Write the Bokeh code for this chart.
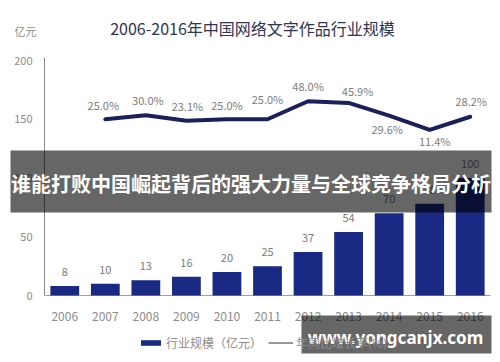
from bokeh.plotting import figure
from bokeh.models import (Range1d, ColumnDataSource, Label, LabelSet,
                          BoxAnnotation, Legend, LegendItem)
from bokeh.embed import file_html
from bokeh.resources import INLINE
from bokeh.core.properties import value

# ---------------- data ----------------
years = [2006, 2007, 2008, 2009, 2010, 2011, 2012, 2013, 2014, 2015, 2016]
scale = [8, 10, 13, 16, 20, 25, 37, 54, 70, 78, 100]          # 亿元
growth_years = [2007, 2008, 2009, 2010, 2011, 2012, 2013, 2014, 2015, 2016]
growth = [25.0, 30.0, 23.1, 25.0, 25.0, 48.0, 45.9, 29.6, 11.4, 28.2]  # %
y_ticks = [0, 50, 100, 150, 200]
title_text = "2006-2016年中国网络文字作品行业规模"
unit_text = "亿元"
legend_bar = "行业规模（亿元）"
legend_line = "年同比增长率(%)"
banner_text = "谁能打败中国崛起背后的强大力量与全球竞争格局分析"
watermark_text = "www.yongcanjx.com"

# ---------------- styles / geometry ----------------
FONT = "Noto Sans CJK SC"
BAR = "#1a2a84"
LINE = "#1b1f5c"
TICK = "#8c8c8c"
LBL = "#7c7c7c"
W, H = 500, 362
PLOT_L, PLOT_R, PLOT_T, PLOT_B = 44, 490, 60, 295      # plotting area in px
X0, X1 = years[0] - 0.5, years[-1] + 0.5
Y0, Y1 = y_ticks[0], y_ticks[-1]
P0, P1 = -200, 100                                      # secondary (growth %) axis
pct_dx = [-2, 2, 1, 0, 0, 0, 9, -2, 5, 1]
pct_dy = [14, 15, 15, 14, 20, 15, 12, -13, -11, 16]

kx = (X1 - X0) / (PLOT_R - PLOT_L)
ky = (Y1 - Y0) / (PLOT_B - PLOT_T)
kp = (P1 - P0) / (PLOT_B - PLOT_T)


def dx(px):
    return X0 + (px - PLOT_L) * kx


def dy(py):
    return Y0 + (PLOT_B - py) * ky


p = figure(width=W, height=H, output_backend="svg", toolbar_location=None,
           x_range=Range1d(dx(0), dx(W)), y_range=Range1d(dy(H), dy(0)),
           min_border=0)
p.extra_y_ranges = {"pct": Range1d(P0 - (H - PLOT_B) * kp, P1 + PLOT_T * kp)}
p.outline_line_color = None
p.grid.visible = False
p.xaxis.visible = False
p.yaxis.visible = False
p.background_fill_color = "white"
p.border_fill_color = "white"

# ---- axes (drawn from the tick lists through the scales) ----
p.segment(x0=[X0], y0=[Y0], x1=[X0], y1=[dy(PLOT_T - 3)], line_color="#8a8a8a",
          line_width=1)
p.segment(x0=[X0], y0=[Y0], x1=[X1], y1=[Y0], line_color="#a0a0a0", line_width=1)
p.text(x=[dx(PLOT_L - 12)] * len(y_ticks), y=y_ticks, text=[str(t) for t in y_ticks],
       text_align="right", text_baseline="middle", text_font=value(FONT),
       text_font_size="11px", text_color=TICK)
p.text(x=years, y=[Y0] * len(years), y_offset=21, text=[str(y) for y in years],
       text_align="center", text_baseline="middle", text_font=value(FONT),
       text_font_size="12px", text_color=TICK)

# ---- bars ----
bar_src = ColumnDataSource(dict(year=years, scale=scale,
                                lab=[str(v) for v in scale]))
bars = p.vbar(x="year", top="scale", width=0.71, source=bar_src,
              fill_color=BAR, line_color=None)
p.add_layout(LabelSet(x="year", y="scale", text="lab", source=bar_src,
                      y_offset=14, text_align="center", text_baseline="middle",
                      text_font=value(FONT), text_font_size="11px", text_color=LBL))

# ---- growth line ----
g_src = ColumnDataSource(dict(year=growth_years, g=growth,
                              lab=["%.1f%%" % v for v in growth],
                              dx=pct_dx, dy=pct_dy))
p.line(x="year", y="g", source=g_src, y_range_name="pct", line_color=LINE,
       line_width=4, line_join="round", line_cap="round")
p.add_layout(LabelSet(x="year", y="g", text="lab", source=g_src, y_range_name="pct",
                      x_offset="dx", y_offset="dy", text_align="center",
                      text_baseline="middle", text_font=value(FONT),
                      text_font_size="11px", text_color=LBL))

# thin line used only as the legend swatch of the growth series
legend_line_r = p.line(x="year", y="g", source=g_src, y_range_name="pct",
                       line_color="#333333", line_width=1, visible=False)

# ---- title & unit ----
p.add_layout(Label(x=dx(252), y=dy(27), text=title_text, text_align="center",
                   text_baseline="middle", text_font=FONT, text_font_size="16px",
                   text_color="#2f3555"))
p.add_layout(Label(x=dx(25), y=dy(30), text=unit_text, text_align="center",
                   text_baseline="middle", text_font=FONT, text_font_size="11px",
                   text_color=TICK))

legend = Legend(items=[LegendItem(label=legend_bar, renderers=[bars]),
                       LegendItem(label=legend_line, renderers=[legend_line_r])],
                orientation="horizontal", location=(138, H - 351),
                background_fill_alpha=0, border_line_color=None, padding=0,
                margin=0, spacing=6, glyph_width=25, glyph_height=7,
                label_standoff=3, label_height=7, label_text_font=FONT,
                label_text_font_size="12px", label_text_color=TICK,
                inactive_fill_alpha=0)
p.add_layout(legend)

# ---- overlay banner ----
p.add_layout(BoxAnnotation(left=dx(10), right=dx(491), top=dy(150), bottom=dy(212),
                           fill_color="black", fill_alpha=0.6, line_color=None))
p.add_layout(Label(x=dx(250.5), y=dy(183), text=banner_text, text_align="center",
                   text_baseline="middle", text_font=FONT, text_font_size="20px",
                   text_font_style="bold", text_color="white"))

# ---- watermark ----
p.add_layout(BoxAnnotation(left=dx(301), right=dx(491), top=dy(315), bottom=dy(353),
                           fill_color="black", fill_alpha=0.6, line_color=None))
p.add_layout(Label(x=dx(395), y=dy(336.5), text=watermark_text, text_align="center",
                   text_baseline="middle", text_font="Noto Sans", text_font_size="17px",
                   text_font_style="bold", text_color="white"))

open("out.html", "w").write(file_html(p, INLINE))
